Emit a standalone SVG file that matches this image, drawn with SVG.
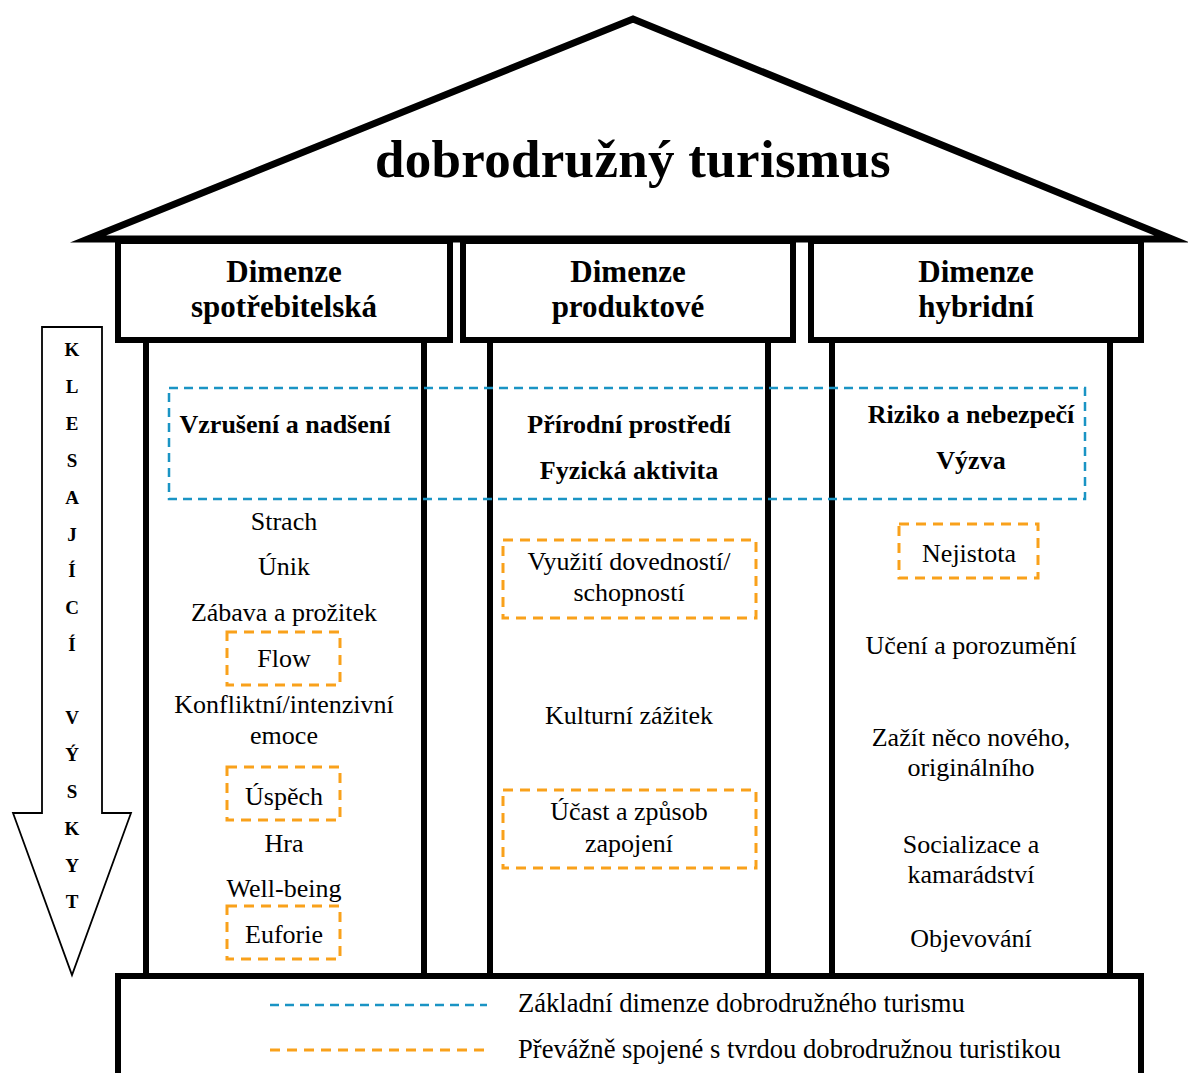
<svg xmlns="http://www.w3.org/2000/svg" width="1188" height="1073" viewBox="0 0 1188 1073">
<style>
text{font-family:"Liberation Serif","Times New Roman",serif;fill:#000;text-anchor:middle}
.t{font-size:26px}
.b{font-size:26px;font-weight:bold}
.h{font-size:31px;font-weight:bold}
.l{font-size:19px;font-weight:bold}
.lg{font-size:26.6px;text-anchor:start}
.thick{fill:#fff;stroke:#000;stroke-width:6}
.pil{stroke:#000;stroke-width:6}
.blue{fill:none;stroke:#1a94c4;stroke-width:2.5;stroke-dasharray:9 6}
.orange{fill:none;stroke:#f9a11b;stroke-width:3;stroke-dasharray:10 7}
</style>
<rect width="1188" height="1073" fill="#fff"/>
<g id="roof">
<polygon points="88,239 633,19 1172,239" fill="#fff" stroke="#000" stroke-width="7" stroke-miterlimit="10"/>
<text x="633" y="177" style="font-size:53px;font-weight:bold;letter-spacing:0.3px">dobrodružný turismus</text>
</g>
<g id="pillars">
<line class="pil" x1="146" y1="340" x2="146" y2="976"/>
<line class="pil" x1="424" y1="340" x2="424" y2="976"/>
<line class="pil" x1="490" y1="340" x2="490" y2="976"/>
<line class="pil" x1="768" y1="340" x2="768" y2="976"/>
<line class="pil" x1="832" y1="340" x2="832" y2="976"/>
<line class="pil" x1="1110" y1="340" x2="1110" y2="976"/>
</g>
<g id="header-spotrebitelska">
<rect class="thick" x="118" y="241" width="332" height="99"/>
<text class="h" x="284" y="282">Dimenze</text>
<text class="h" x="284" y="317">spotřebitelská</text>
</g>
<g id="header-produktove">
<rect class="thick" x="463" y="241" width="330" height="99"/>
<text class="h" x="628" y="282">Dimenze</text>
<text class="h" x="628" y="317">produktové</text>
</g>
<g id="header-hybridni">
<rect class="thick" x="811" y="241" width="330" height="99"/>
<text class="h" x="976" y="282">Dimenze</text>
<text class="h" x="976" y="317">hybridní</text>
</g>
<g id="base">
<rect class="thick" x="118" y="976" width="1023" height="104"/>
</g>
<g id="arrow">
<polygon points="42,327 102,327 102,813 131,813 72,975 13,813 42,813" fill="#fff" stroke="#000" stroke-width="1.8"/>
<text class="l" x="72" y="356">K</text>
<text class="l" x="72" y="393">L</text>
<text class="l" x="72" y="430">E</text>
<text class="l" x="72" y="467">S</text>
<text class="l" x="72" y="504">A</text>
<text class="l" x="72" y="541">J</text>
<text class="l" x="72" y="577">Í</text>
<text class="l" x="72" y="614">C</text>
<text class="l" x="72" y="651">Í</text>
<text class="l" x="72" y="724">V</text>
<text class="l" x="72" y="761">Ý</text>
<text class="l" x="72" y="798">S</text>
<text class="l" x="72" y="835">K</text>
<text class="l" x="72" y="872">Y</text>
<text class="l" x="72" y="908">T</text>
</g>
<g id="core-dimensions">
<rect class="blue" x="169" y="388" width="916" height="111"/>
<text class="b" x="285" y="433">Vzrušení a nadšení</text>
<text class="b" x="629" y="433">Přírodní prostředí</text>
<text class="b" x="629" y="479">Fyzická aktivita</text>
<text class="b" x="971" y="423">Riziko a nebezpečí</text>
<text class="b" x="971" y="469">Výzva</text>
</g>
<g id="column-spotrebitelska">
<text class="t" x="284" y="530">Strach</text>
<text class="t" x="284" y="575">Únik</text>
<text class="t" x="284" y="621">Zábava a prožitek</text>
<rect class="orange" x="227" y="632" width="113" height="53"/>
<text class="t" x="284" y="667">Flow</text>
<text class="t" x="284" y="713">Konfliktní/intenzivní</text>
<text class="t" x="284" y="744">emoce</text>
<rect class="orange" x="227" y="767" width="113" height="53"/>
<text class="t" x="284" y="805">Úspěch</text>
<text class="t" x="284" y="852">Hra</text>
<text class="t" x="284" y="897">Well-being</text>
<rect class="orange" x="227" y="906" width="113" height="53"/>
<text class="t" x="284" y="943">Euforie</text>
</g>
<g id="column-produktove">
<rect class="orange" x="503" y="540" width="253" height="78"/>
<text class="t" x="629" y="570">Využití dovedností/</text>
<text class="t" x="629" y="601">schopností</text>
<text class="t" x="629" y="724">Kulturní zážitek</text>
<rect class="orange" x="503" y="790" width="253" height="78"/>
<text class="t" x="629" y="820">Účast a způsob</text>
<text class="t" x="629" y="852">zapojení</text>
</g>
<g id="column-hybridni">
<rect class="orange" x="899" y="524" width="139" height="54"/>
<text class="t" x="969" y="562">Nejistota</text>
<text class="t" x="971" y="654">Učení a porozumění</text>
<text class="t" x="971" y="746">Zažít něco nového,</text>
<text class="t" x="971" y="776">originálního</text>
<text class="t" x="971" y="853">Socializace a</text>
<text class="t" x="971" y="883">kamarádství</text>
<text class="t" x="971" y="947">Objevování</text>
</g>
<g id="legend">
<line class="blue" x1="270" y1="1005" x2="487" y2="1005"/>
<text class="lg" x="518" y="1012">Základní dimenze dobrodružného turismu</text>
<line class="orange" x1="270" y1="1050" x2="487" y2="1050"/>
<text class="lg" x="518" y="1058">Převážně spojené s tvrdou dobrodružnou turistikou</text>
</g>
</svg>
